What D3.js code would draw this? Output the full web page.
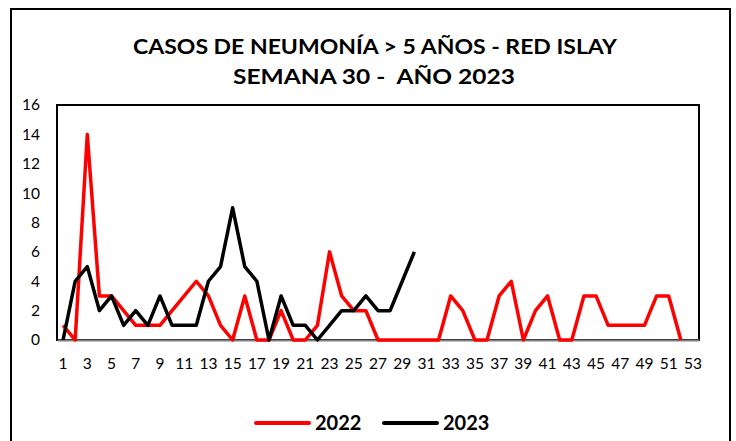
<!DOCTYPE html>
<html>
<head>
<meta charset="utf-8">
<script src="https://cdn.jsdelivr.net/npm/d3@7"></script>
<style>
  body { margin: 0; background: #fff; }
  svg { display: block; font-family: Lato, "Open Sans", sans-serif; }
</style>
</head>
<body>
<svg id="chart" width="736" height="441"></svg>
<script>
// weeks 1..53
var weeks = d3.range(1, 54);
var xTickLabels = weeks.filter(function(w){ return w % 2 === 1; });
var yTickLabels = [0, 2, 4, 6, 8, 10, 12, 14, 16];

var cases2022 = [1, 0, 14, 3, 3, 2, 1, 1, 1, 2, 3, 4, 3, 1, 0, 3, 0, 0, 2, 0,
                 0, 1, 6, 3, 2, 2, 0, 0, 0, 0, 0, 0, 3, 2, 0, 0, 3, 4, 0, 2,
                 3, 0, 0, 3, 3, 1, 1, 1, 1, 3, 3, 0];
var cases2023 = [0, 4, 5, 2, 3, 1, 2, 1, 3, 1, 1, 1, 4, 5, 9, 5, 4, 0, 3, 1,
                 1, 0, 1, 2, 2, 3, 2, 2, 4, 6];

var seriesNames = ["2022", "2023"];
var seriesColors = ["#ff0000", "#000000"];

var svg = d3.select("#chart");

var margin = {left: 57, top: 105, right: 699, bottom: 340};

var x = d3.scaleBand()
    .domain(weeks)
    .range([margin.left, margin.right]);

var y = d3.scaleLinear()
    .domain([0, 16])
    .range([margin.bottom, margin.top]);

// outer frame
svg.append("rect")
    .attr("x", 11).attr("y", 9)
    .attr("width", 719).attr("height", 440)
    .attr("fill", "none")
    .attr("stroke", "#000")
    .attr("stroke-width", 2);

// title
var title = svg.append("g")
    .attr("font-weight", "bold")
    .attr("font-size", 21)
    .attr("text-anchor", "middle")
    .attr("fill", "#000");
title.append("text")
    .attr("x", 375).attr("y", 54)
    .attr("textLength", 484).attr("lengthAdjust", "spacingAndGlyphs")
    .text("CASOS DE NEUMONÍA > 5 AÑOS - RED ISLAY");
title.append("text")
    .attr("x", 374).attr("y", 84)
    .attr("textLength", 282).attr("lengthAdjust", "spacingAndGlyphs")
    .attr("xml:space", "preserve")
    .text("SEMANA 30 -  AÑO 2023");

// plot frame
svg.append("rect")
    .attr("x", margin.left).attr("y", margin.top)
    .attr("width", margin.right - margin.left)
    .attr("height", margin.bottom - margin.top)
    .attr("fill", "none")
    .attr("stroke", "#000")
    .attr("stroke-width", 2);

// y axis labels
var yAxis = d3.axisLeft(y).tickValues(yTickLabels).tickSize(0).tickPadding(17);
svg.append("g")
    .attr("transform", "translate(" + margin.left + ",0)")
    .call(yAxis)
    .call(function(g){ g.select(".domain").remove(); })
    .selectAll("text")
    .attr("font-family", "Lato, sans-serif")
    .attr("font-size", 15.5)
    .attr("fill", "#000");

// x axis
var xAxis = d3.axisBottom(x).tickValues(xTickLabels).tickSize(0).tickPadding(18);
var xg = svg.append("g")
    .attr("transform", "translate(0," + margin.bottom + ")")
    .call(xAxis);
xg.select(".domain")
    .attr("stroke", "#808080")
    .attr("stroke-width", 2);
xg.selectAll("text")
    .attr("font-family", "Lato, sans-serif")
    .attr("font-size", 15.5)
    .attr("fill", "#000");

// lines
var line = d3.line()
    .x(function(d, i){ return x(weeks[i]) + x.bandwidth() / 2; })
    .y(function(d){ return y(d); });

[cases2022, cases2023].forEach(function(values, i){
    svg.append("path")
        .datum(values)
        .attr("fill", "none")
        .attr("stroke", seriesColors[i])
        .attr("stroke-width", 3.5)
        .attr("stroke-linejoin", "round")
        .attr("d", line);
});

// legend
var legendX = [256, 384];
seriesNames.forEach(function(name, i){
    var g = svg.append("g");
    g.append("line")
        .attr("x1", legendX[i]).attr("x2", legendX[i] + 53)
        .attr("y1", 423).attr("y2", 423)
        .attr("stroke", seriesColors[i])
        .attr("stroke-width", 4)
        .attr("stroke-linecap", "round");
    g.append("text")
        .attr("x", legendX[i] + 59).attr("y", 430)
        .attr("font-size", 20)
        .attr("font-weight", "bold")
        .attr("fill", "#000")
        .text(name);
});
</script>
</body>
</html>
